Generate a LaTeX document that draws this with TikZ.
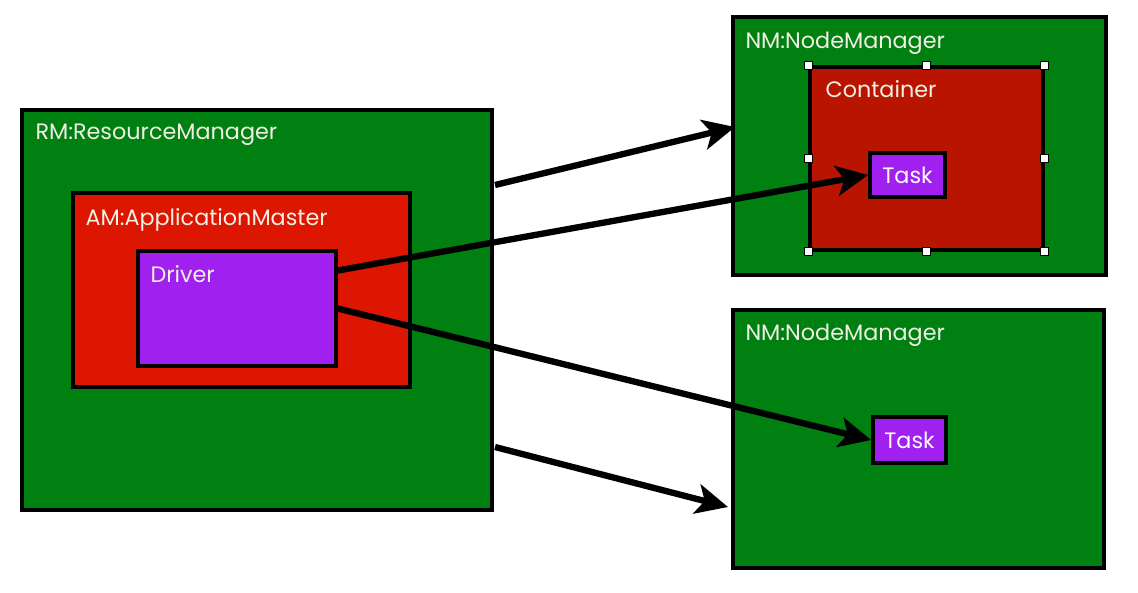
\documentclass[tikz,border=0pt]{standalone}
\usepackage{fontspec}
\setmainfont{Poppins}
\usetikzlibrary{arrows.meta}
\usetikzlibrary{positioning}
\definecolor{rmgreen}{RGB}{0,128,16}
\definecolor{amred}{RGB}{220,22,0}
\definecolor{ctred}{RGB}{184,20,0}
\definecolor{drvpurple}{RGB}{160,32,240}
\definecolor{tagwhite}{RGB}{240,240,228}
\tikzstyle{box} = [draw, rectangle, line width = 2.1pt]
\tikzstyle{tag} = [inner sep = 0pt, text = tagwhite, font = \fontsize{12.7}{14}\selectfont]
\tikzstyle{taskbox} = [box, fill = drvpurple, text = white, font = \fontsize{12.7}{14}\selectfont]
\tikzstyle{handle} = [draw, fill = white, rectangle, minimum size = 0.16cm, inner sep = 0pt, line width = 0.6pt]
\tikzstyle{arrow} = [line width = 3.6pt, -{Stealth[length = 0.64cm, width = 0.6cm, inset = 0.16cm]}]

\begin{document}
\begin{tikzpicture}[x = 0.02cm, y = -0.02cm]
	\useasboundingbox (0,0) rectangle (1138,592);
	
	% Resource manager
	\node[box, fill = rmgreen, minimum width = 9.4cm, minimum height = 8cm] (rm) at (257,310) {};
	\node[tag, below right = 0.3cm and 0.3cm of rm.north west] (rmtag) {RM:ResourceManager};
	
	% Application master
	\node[box, fill = amred, minimum width = 6.74cm, minimum height = 3.88cm] (am) at (241.5,290) {};
	\node[tag, below right = 0.34cm and 0.28cm of am.north west] (amtag) {AM:ApplicationMaster};
	
	% Driver
	\node[box, fill = drvpurple, minimum width = 3.96cm, minimum height = 2.3cm] (drv) at (237,308.5) {};
	\node[tag, below right = 0.32cm and 0.28cm of drv.north west] (drvtag) {Driver};
	
	% First node manager
	\node[box, fill = rmgreen, minimum width = 7.46cm, minimum height = 5.16cm] (nm1) at (919.5,146) {};
	\node[tag, below right = 0.32cm and 0.28cm of nm1.north west] (nm1tag) {NM:NodeManager};
	\node[box, fill = ctred, minimum width = 4.66cm, minimum height = 3.66cm] (ct) at (926.5,158.5) {};
	\node[tag, below right = 0.3cm and 0.34cm of ct.north west] (cttag) {Container};
	\foreach \a in {north west, north, north east, west, east, south west, south, south east}
		\node[handle] at (ct.\a) {};
	\node[taskbox, minimum width = 1.5cm, minimum height = 0.88cm] (task1) at (907.5,175) {Task};
	
	% Second node manager
	\node[box, fill = rmgreen, minimum width = 7.42cm, minimum height = 5.16cm] (nm2) at (918.5,439) {};
	\node[tag, below right = 0.3cm and 0.28cm of nm2.north west] (nm2tag) {NM:NodeManager};
	\node[taskbox, minimum width = 1.46cm, minimum height = 0.92cm] (task2) at (909.5,440) {Task};
	
	% Connect all nodes defined above
	\coordinate (rmout1) at (495,185);
	\coordinate (nm1in) at (735,127);
	\coordinate (rmout2) at (495,447);
	\coordinate (nm2in) at (728,507);
	\draw[arrow] (rmout1) -- (nm1in);
	\draw[arrow] ([yshift = 0.76cm]drv.east) -- (task1.west);
	\draw[arrow] (drv.east) -- (task2.west);
	\draw[arrow] (rmout2) -- (nm2in);
	
\end{tikzpicture}
\end{document}
